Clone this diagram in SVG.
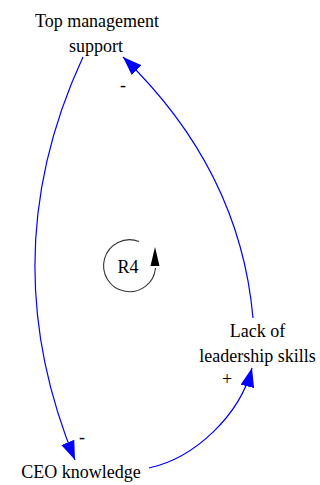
<svg xmlns="http://www.w3.org/2000/svg" width="320" height="485" viewBox="0 0 320 485">
<style>
text{font-family:'Liberation Serif','Times New Roman','DejaVu Serif','Noto Serif',Times,serif;font-size:18px;fill:#000;text-anchor:middle}
.link{fill:none;stroke:#0000ff;stroke-width:1.2}
</style>
<defs>
<marker id="ah" markerUnits="userSpaceOnUse" markerWidth="20" markerHeight="14" refX="19" refY="7" orient="auto">
<path d="M0,0 L19,7 L0,14 z" fill="#0000ff"/>
</marker>
</defs>
<rect width="320" height="485" fill="#fff"/>
<g id="top-management-support"><text x="97" y="27">Top management</text><text x="96" y="51.5">support</text></g>
<g id="lack-of-leadership-skills"><text x="257.5" y="337">Lack of</text><text x="257.5" y="362">leadership skills</text></g>
<g id="ceo-knowledge"><text x="81" y="478">CEO knowledge</text></g>
<g id="connectors">
<path class="link" d="M83,57 Q-9,255.5 75,460" marker-end="url(#ah)"/>
<path class="link" d="M149,468 C195,458 240,415 252,368" marker-end="url(#ah)"/>
<path class="link" d="M253,318 Q240,170 123,57" marker-end="url(#ah)"/>
<text x="123" y="91">-</text>
<text x="82" y="443">-</text>
<text x="227" y="385">+</text>
</g>
<g id="loop-r4">
<path d="M155.5,268 A26,26 0 1 1 139,241.5" fill="none" stroke="#333" stroke-width="1.1"/>
<polygon points="155,247 150.5,266 159.5,266" fill="#000"/>
<text x="128" y="273">R4</text>
</g>
</svg>
